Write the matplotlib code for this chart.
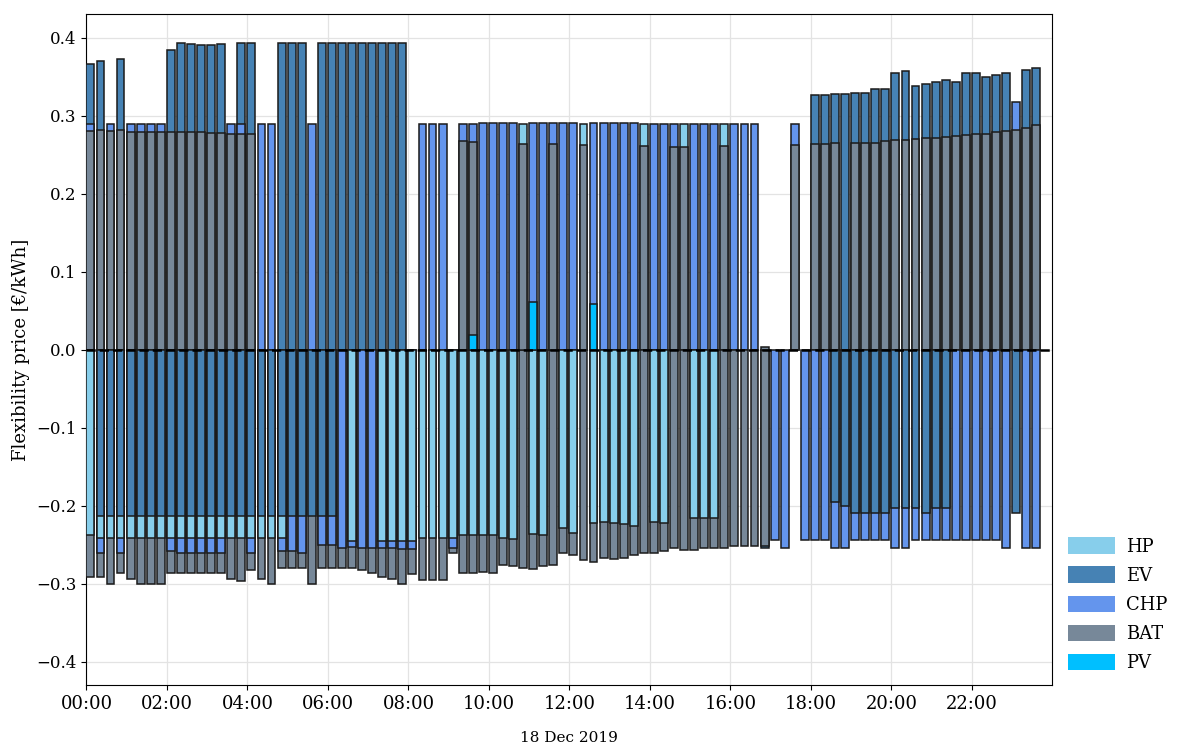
import numpy as np
import matplotlib
matplotlib.use('Agg')
import matplotlib.pyplot as plt
from matplotlib.patches import Patch

plt.rcParams['font.family'] = ['DejaVu Serif']

# 15-minute slots 00:00 ... 23:30 (95 slots)
n_slots = 95

# positive flexibility prices [EUR/kWh], one dict entry per slot index that has a bar
hp_pos = {43: .289, 49: .289, 55: .289, 59: .289, 63: .289}
ev_pos = {0: .366, 1: .370, 3: .373, 8: .384, 9: .393, 10: .392, 11: .391, 12: .391,
          13: .392, 15: .393, 16: .393, 19: .393, 20: .393, 21: .393, 23: .393,
          24: .393, 25: .393, 26: .393, 27: .393, 28: .393, 29: .393, 30: .393, 31: .393,
          72: .327, 73: .327, 74: .328, 75: .328, 76: .329, 77: .329, 78: .334, 79: .334,
          80: .355, 81: .357, 82: .338, 83: .341, 84: .343, 85: .346, 86: .343, 87: .355,
          88: .355, 89: .350, 90: .352, 91: .355, 93: .359, 94: .361}
chp_pos = {0: .289, 2: .289, 4: .289, 5: .289, 6: .289, 7: .289, 14: .289, 15: .289,
           17: .289, 18: .289, 22: .289, 33: .289, 34: .289, 35: .289, 37: .289, 38: .289,
           39: .290, 40: .290, 41: .290, 42: .290, 44: .290, 45: .290, 46: .290, 47: .290,
           48: .290, 50: .290, 51: .290, 52: .290, 53: .290, 54: .290, 56: .289, 57: .289,
           58: .289, 60: .289, 61: .289, 62: .289, 64: .289, 65: .289, 66: .289, 70: .289,
           92: .318}
bat_pos = {0: .280, 1: .281, 2: .280, 3: .281, 4: .279, 5: .279, 6: .279, 7: .279,
           8: .279, 9: .279, 10: .279, 11: .279, 12: .278, 13: .278, 14: .277, 15: .277,
           16: .276, 37: .2675, 38: .266, 43: .264, 46: .263, 49: .262, 55: .261, 58: .260,
           59: .260, 63: .261, 67: .003, 70: .262, 72: .263, 73: .263, 74: .2645, 76: .2645,
           77: .265, 78: .265, 79: .267, 80: .269, 81: .269, 82: .270, 83: .271, 84: .271,
           85: .272, 86: .2735, 87: .275, 88: .276, 89: .276, 90: .279, 91: .280, 92: .282,
           93: .284, 94: .288}
pv_pos = {38: .019, 44: .061, 50: .059}

# negative flexibility prices
hp_neg = {0: -.238, 1: -.241, 2: -.241, 3: -.241, 4: -.241, 5: -.241, 6: -.241, 7: -.241,
          8: -.241, 9: -.241, 10: -.241, 11: -.241, 12: -.241, 13: -.241, 14: -.241,
          15: -.241, 16: -.241, 17: -.241, 18: -.241, 19: -.241, 26: -.245, 29: -.245,
          30: -.245, 31: -.245, 32: -.245, 33: -.241, 34: -.241, 35: -.241, 36: -.241,
          37: -.238, 38: -.238, 39: -.238, 40: -.238, 41: -.241, 42: -.243, 44: -.236,
          45: -.238, 47: -.229, 48: -.235, 50: -.223, 51: -.221, 52: -.222, 53: -.224,
          54: -.226, 56: -.221, 57: -.222, 60: -.216, 61: -.216, 62: -.216}
ev_neg = {i: -.214 for i in range(1, 25)}
ev_neg.update({67: -.254, 74: -.195, 75: -.201, 76: -.2096, 77: -.2096, 78: -.2096,
               79: -.2096, 80: -.203, 81: -.203, 82: -.203, 83: -.2096, 84: -.203,
               85: -.203, 92: -.2096})
chp_neg = {1: -.261, 3: -.261, 8: -.258, 9: -.261, 10: -.261, 11: -.261, 12: -.261,
           13: -.261, 16: -.261, 19: -.258, 20: -.258, 21: -.261, 23: -.251, 24: -.251,
           25: -.254, 26: -.253, 27: -.254, 28: -.254, 29: -.255, 30: -.255, 31: -.256,
           32: -.256, 36: -.254, 68: -.244, 69: -.255, 71: -.244, 72: -.244, 73: -.244,
           74: -.255, 75: -.255, 76: -.244, 77: -.244, 78: -.244, 79: -.244, 80: -.255,
           81: -.255, 82: -.244, 83: -.244, 84: -.244, 85: -.244, 86: -.244, 87: -.244,
           88: -.244, 89: -.244, 90: -.244, 91: -.255, 93: -.255, 94: -.255}
bat_neg = {0: -.291, 1: -.291, 2: -.300, 3: -.286, 4: -.294, 5: -.300, 6: -.300, 7: -.300,
           8: -.287, 9: -.287, 10: -.287, 11: -.287, 12: -.287, 13: -.287, 14: -.294,
           15: -.297, 16: -.283, 17: -.294, 18: -.300, 19: -.280, 20: -.280, 21: -.280,
           22: -.300, 23: -.280, 24: -.280, 25: -.280, 26: -.280, 27: -.283, 28: -.286,
           29: -.291, 30: -.294, 31: -.301, 32: -.288, 33: -.295, 34: -.296, 35: -.296,
           36: -.261, 37: -.287, 38: -.287, 39: -.285, 40: -.287, 41: -.276, 42: -.278,
           43: -.280, 44: -.282, 45: -.278, 46: -.276, 47: -.261, 48: -.264, 49: -.270,
           50: -.272, 51: -.267, 52: -.268, 53: -.267, 54: -.264, 55: -.261, 56: -.261,
           57: -.258, 58: -.255, 59: -.257, 60: -.257, 61: -.255, 62: -.254, 63: -.255,
           64: -.252, 65: -.252, 66: -.252, 67: -.252}
pv_neg = {}

techs = ['HP', 'EV', 'CHP', 'BAT', 'PV']
colors = ['skyblue', 'steelblue', 'cornflowerblue', 'lightslategray', 'deepskyblue']
data = {'HP': [hp_pos, hp_neg], 'EV': [ev_pos, ev_neg], 'CHP': [chp_pos, chp_neg],
        'BAT': [bat_pos, bat_neg], 'PV': [pv_pos, pv_neg]}

tick_pos = list(range(0, 96, 8))
tick_labels = ['%02d:00' % h for h in range(0, 24, 2)]

fig = plt.figure(figsize=(11.84, 7.51), dpi=100)
ax = fig.add_axes([0.0726, 0.088, 0.8159, 0.893])

for tech, c in zip(techs, colors):
    for d in data[tech]:
        if not d:
            continue
        xs = list(d.keys())
        vs = list(d.values())
        bars = ax.bar(xs, vs, width=0.78, align='edge', color=c,
                      edgecolor='#1a1a1a', linewidth=1.1)
        # bars overlap: the larger one goes behind, so every value stays visible
        for p, v in zip(bars.patches, vs):
            p.set_zorder(3 + (0.5 - abs(v)))

ax.axhline(0, color='black', lw=1.8, ls='--', zorder=10)

ax.set_xlim(-0.05, 95.95)
ax.set_ylim(-0.43, 0.43)
ax.set_xticks(tick_pos)
ax.set_xticklabels(tick_labels, fontsize=13)
ax.set_yticks(np.arange(-0.4, 0.41, 0.1))
ax.tick_params(axis='y', labelsize=12)
ax.grid(True, color='#e3e3e3', lw=0.9)
ax.set_axisbelow(True)
ax.set_ylabel('Flexibility price [€/kWh]', fontsize=13)
ax.set_xlabel('18 Dec 2019', fontsize=11, labelpad=13)

handles = [Patch(facecolor=c, label=t) for t, c in zip(techs, colors)]
ax.legend(handles=handles, loc='lower left', bbox_to_anchor=(1.0, -0.005),
          frameon=False, fontsize=13, handlelength=2.6, handleheight=1.0,
          handletextpad=0.6, labelspacing=0.6)

fig.savefig('out.png', dpi=100)
